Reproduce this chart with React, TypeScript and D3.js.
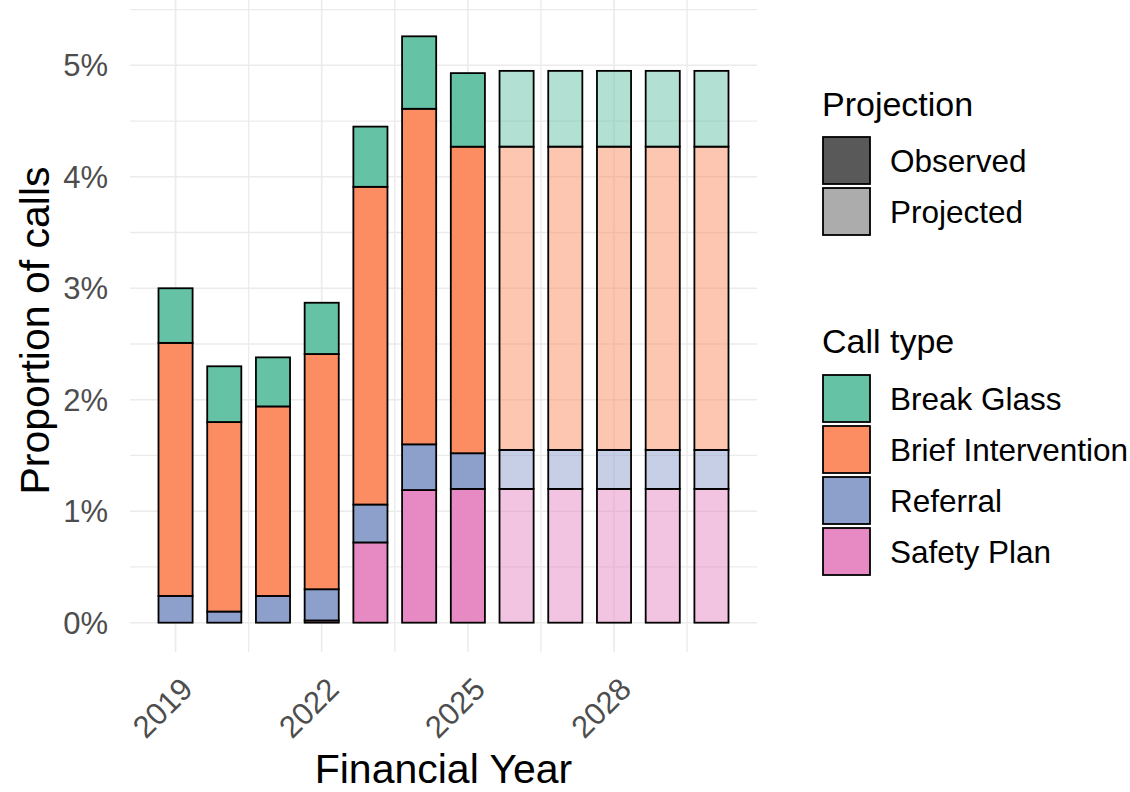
import React from "react";
import * as d3 from "d3";

const years = [2019, 2020, 2021, 2022, 2023, 2024, 2025, 2026, 2027, 2028, 2029, 2030];
const projection = ["Observed", "Observed", "Observed", "Observed", "Observed", "Observed", "Observed", "Projected", "Projected", "Projected", "Projected", "Projected"];
const safetyPlan = [0, 0, 0, 0.02, 0.72, 1.19, 1.2, 1.2, 1.2, 1.2, 1.2, 1.2];
const referral = [0.24, 0.1, 0.24, 0.28, 0.34, 0.41, 0.32, 0.35, 0.35, 0.35, 0.35, 0.35];
const briefIntervention = [2.27, 1.7, 1.7, 2.11, 2.85, 3.01, 2.75, 2.72, 2.72, 2.72, 2.72, 2.72];
const breakGlass = [0.49, 0.5, 0.44, 0.46, 0.54, 0.65, 0.66, 0.68, 0.68, 0.68, 0.68, 0.68];

const callTypes = ["Break Glass", "Brief Intervention", "Referral", "Safety Plan"];
const stackOrder = ["Safety Plan", "Referral", "Brief Intervention", "Break Glass"];
const typeColors: Record<string, string> = {
  "Break Glass": "#66C2A5",
  "Brief Intervention": "#FC8D62",
  "Referral": "#8DA0CB",
  "Safety Plan": "#E78AC3",
};
const xTicks = [2019, 2022, 2025, 2028];
const yTicks = [0, 1, 2, 3, 4, 5];

const FONT = "'Liberation Sans', Arial, sans-serif";

export default function App() {
  const rows = years.map((y, i) => ({
    year: y,
    proj: projection[i],
    "Safety Plan": safetyPlan[i],
    "Referral": referral[i],
    "Brief Intervention": briefIntervention[i],
    "Break Glass": breakGlass[i],
  }));
  const stack = d3.stack<any>().keys(stackOrder)(rows);
  const totals = rows.map((r) => stackOrder.reduce((s, k) => s + (r as any)[k], 0));
  const yMax = d3.max(totals) as number;
  const yExp = yMax * 0.05;

  const left = 130, right = 757, top = 7, bottom = 652;
  const barW = 0.7;
  const xMin = years[0] - barW / 2, xMaxV = years[years.length - 1] + barW / 2;
  const xExp = (xMaxV - xMin) * 0.05;
  const x = d3.scaleLinear().domain([xMin - xExp, xMaxV + xExp]).range([left, right]);
  const y = d3.scaleLinear().domain([-yExp, yMax + yExp]).range([bottom, top]);

  const xMajor = xTicks;
  const xMinor = xTicks.map((t) => t + 1.5);
  const yMinor = d3.range(0.5, yMax + yExp, 1);
  const grid = "#EBEBEB";

  const bw = x(barW) - x(0);

  return (
    <svg width={1130} height={792} style={{ display: "block", position: "absolute", left: 0, top: 0 }} fontFamily={FONT}>
      <rect width={1130} height={792} fill="#fff" />
      {/* grid */}
      {yMinor.map((v) => (
        <line key={"ym" + v} x1={left} x2={right} y1={y(v)} y2={y(v)} stroke={grid} strokeWidth={1.3} />
      ))}
      {xMinor.map((v) => (
        <line key={"xm" + v} x1={x(v)} x2={x(v)} y1={top - 7} y2={bottom} stroke={grid} strokeWidth={1.3} />
      ))}
      {yTicks.map((v) => (
        <line key={"yM" + v} x1={left} x2={right} y1={y(v)} y2={y(v)} stroke={grid} strokeWidth={1.6} />
      ))}
      {xMajor.map((v) => (
        <line key={"xM" + v} x1={x(v)} x2={x(v)} y1={top - 7} y2={bottom} stroke={grid} strokeWidth={1.6} />
      ))}
      {/* bars */}
      {stack.map((layer) =>
        layer.map((d, i) => {
          const val = d[1] - d[0];
          if (val <= 0) return null;
          const yr = years[i];
          const projected = projection[i] === "Projected";
          return (
            <rect
              key={layer.key + yr}
              x={x(yr) - bw / 2}
              width={bw}
              y={y(d[1])}
              height={y(d[0]) - y(d[1])}
              fill={typeColors[layer.key]}
              fillOpacity={projected ? 0.5 : 1}
              stroke="#000"
              strokeWidth={1.8}
            />
          );
        })
      )}
      {/* y axis labels */}
      {yTicks.map((v) => (
        <text key={"yt" + v} x={108} y={y(v)} dy="0.35em" textAnchor="end" fontSize={31} fill="#4D4D4D">
          {v + "%"}
        </text>
      ))}
      {/* x axis labels */}
      {xTicks.map((v) => (
        <text
          key={"xt" + v}
          transform={`translate(${x(v) + 19},${691}) rotate(-45)`}
          textAnchor="end"
          fontSize={31}
          fill="#4D4D4D"
        >
          {v}
        </text>
      ))}
      {/* axis titles */}
      <text x={(left + right) / 2} y={783} textAnchor="middle" fontSize={41} fill="#000">
        Financial Year
      </text>
      <text transform={`translate(49,${(top + bottom) / 2 + 1}) rotate(-90)`} textAnchor="middle" fontSize={41} fill="#000">
        Proportion of calls
      </text>
      {/* legend: projection */}
      <text x={822} y={116} fontSize={34} fill="#000">Projection</text>
      {["Observed", "Projected"].map((p, i) => (
        <g key={p}>
          <rect x={823} y={137 + i * 51} width={47} height={47} fill="#595959" fillOpacity={p === "Projected" ? 0.5 : 1} stroke="#000" strokeWidth={1.8} />
          <text x={890} y={137 + i * 51 + 23.5} dy="0.35em" fontSize={31.5} fill="#000">{p}</text>
        </g>
      ))}
      {/* legend: call type */}
      <text x={822} y={353} fontSize={34} fill="#000">Call type</text>
      {callTypes.map((c, i) => (
        <g key={c}>
          <rect x={823} y={375 + i * 51} width={47} height={47} fill={typeColors[c]} stroke="#000" strokeWidth={1.8} />
          <text x={890} y={375 + i * 51 + 23.5} dy="0.35em" fontSize={31.5} fill="#000">{c}</text>
        </g>
      ))}
    </svg>
  );
}
